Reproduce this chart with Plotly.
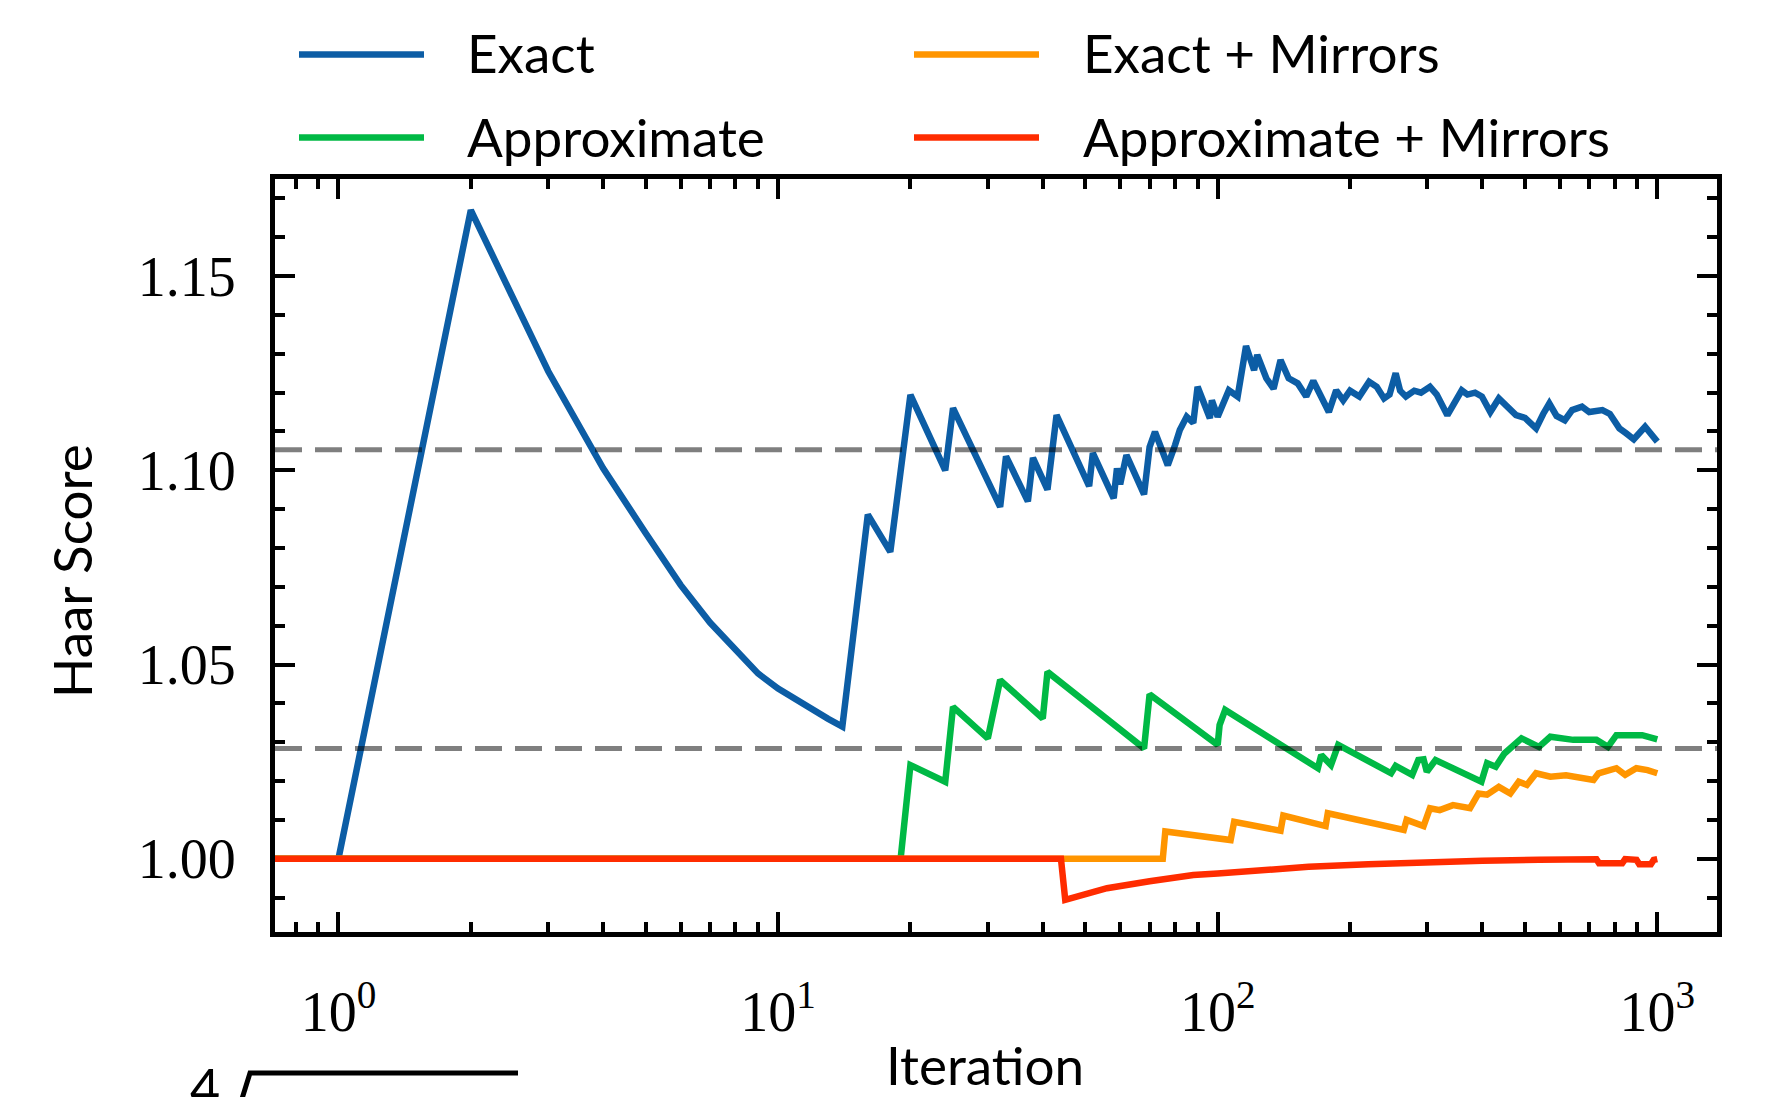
import plotly.graph_objects as go

# ---------------- data ----------------
series_names = ["Exact", "Approximate", "Exact + Mirrors", "Approximate + Mirrors"]
series_colors = ["#0C5DA5", "#00B945", "#FF9500", "#FF2C00"]

exact_iter = [1, 2, 3, 4, 5, 6, 7, 8, 9, 10, 11, 12, 13, 14, 16, 18, 20, 24, 25, 32, 33, 37, 38, 41, 43,
              51, 52, 58, 59, 60, 62, 68, 70, 72, 77, 80, 82, 85, 88, 90, 96, 97, 100, 106, 111, 116,
              121, 123, 129, 134, 139, 145, 152, 159, 165, 179, 186, 193, 200, 210, 221, 230, 239, 246,
              254, 260, 268, 280, 290, 304, 315, 333, 345, 359, 370, 385, 399, 417, 436, 450, 477, 500,
              530, 550, 568, 590, 616, 640, 674, 700, 750, 780, 820, 850, 884, 938, 960, 1000]
exact_val = [1.000, 1.167, 1.1255, 1.1005, 1.0838, 1.0705, 1.0608, 1.0538, 1.0477, 1.0438, 1.0408, 1.0383,
             1.036, 1.034, 1.0886, 1.079, 1.1194, 1.100, 1.116, 1.0906, 1.1036, 1.092, 1.1032, 1.095, 1.1142,
             1.0959, 1.1044, 1.0928, 1.1005, 1.0964, 1.1039, 1.0938, 1.106, 1.1099, 1.1013, 1.1065, 1.1104,
             1.1138, 1.1122, 1.1215, 1.1134, 1.118, 1.1138, 1.1206, 1.119, 1.132, 1.1258, 1.1297, 1.1237,
             1.121, 1.1284, 1.1237, 1.1224, 1.119, 1.123, 1.115, 1.1206, 1.118, 1.1205, 1.119, 1.1228,
             1.1215, 1.1185, 1.1195, 1.125, 1.1205, 1.119, 1.1205, 1.120, 1.1215, 1.1195, 1.1142, 1.1175,
             1.1206, 1.1195, 1.120, 1.119, 1.115, 1.1185, 1.117, 1.1142, 1.1135, 1.1108, 1.1145, 1.1172,
             1.114, 1.1129, 1.1155, 1.1164, 1.115, 1.1155, 1.1145, 1.1108, 1.1095, 1.108, 1.1112, 1.110, 1.1074]

approx_iter = [0.5, 19, 20, 24, 25, 30, 32, 40, 41, 68, 70, 100, 101, 104, 169, 172, 181, 188, 248, 254,
               277, 286, 294, 299, 313, 398, 410, 429, 449, 477, 491, 538, 571, 644, 727, 772, 807, 924, 1000]
approx_val = [1.0, 1.0, 1.0241, 1.0198, 1.0391, 1.031, 1.046, 1.0361, 1.0481, 1.0284, 1.0423, 1.0293,
              1.0344, 1.0383, 1.0233, 1.0267, 1.0241, 1.0293, 1.022, 1.0239, 1.0216, 1.0254, 1.0256,
              1.0224, 1.0254, 1.0198, 1.0246, 1.0237, 1.0271, 1.0297, 1.031, 1.0288, 1.0314, 1.0306,
              1.0306, 1.0288, 1.0318, 1.0318, 1.0307]

exact_mir_iter = [0.5, 75, 76, 107, 109, 139, 141, 176, 178, 265, 269, 294, 304, 320, 343, 360, 375, 392,
                  410, 436, 463, 484, 505, 530, 571, 620, 716, 735, 807, 845, 896, 950, 1000]
exact_mir_val = [1.0, 1.0, 1.007, 1.0048, 1.0095, 1.0072, 1.0111, 1.0084, 1.0117, 1.0074, 1.010, 1.0084,
                 1.013, 1.0125, 1.0138, 1.0135, 1.013, 1.0168, 1.0165, 1.0185, 1.0168, 1.0198, 1.019,
                 1.022, 1.0211, 1.0215, 1.0203, 1.022, 1.0233, 1.0216, 1.0233, 1.0228, 1.022]

approx_mir_iter = [0.5, 44, 45, 50, 56, 70, 88, 100, 120, 161, 220, 295, 400, 538, 727, 737, 832, 845,
                   897, 910, 967, 981, 1000]
approx_mir_val = [1.0, 1.0, 0.9894, 0.9909, 0.9924, 0.9942, 0.9958, 0.9962, 0.997, 0.9979, 0.9986,
                  0.9992, 0.9995, 0.9997, 0.99985, 0.9988, 0.9988, 0.9999, 0.9997, 0.9986, 0.9986,
                  0.9997, 0.9999]

ref_levels = [1.1053, 1.0284]

x_tick_vals = [1, 10, 100, 1000]
x_tick_text = ["10<sup>0</sup>", "10<sup>1</sup>", "10<sup>2</sup>", "10<sup>3</sup>"]
x_minor_vals = [0.8, 0.9] + [k * 10 ** d for d in range(0, 3) for k in range(2, 10)]

x_title = "Iteration"
y_title = "Haar Score"

# ---------------- figure ----------------
OFF = 8                      # default page (body) margin of the html page
W, H = 1781 - OFF, 1097 - OFF
ML, MR, MT, MB = 267, 64, 171, 165
PW, PH = W - ML - MR, H - MT - MB

def px_x(xp):                # window pixel -> paper fraction
    return (xp - OFF - ML) / PW

def px_y(yp):
    return (H - MB - (yp - OFF)) / PH

SANS = "Lato, 'DejaVu Sans', sans-serif"
SERIF = "'Liberation Serif', 'DejaVu Serif', serif"
LW = 6.5

fig = go.Figure()
all_series = [(exact_iter, exact_val), (approx_iter, approx_val),
              (exact_mir_iter, exact_mir_val), (approx_mir_iter, approx_mir_val)]
for (xs, ys), name, col in zip(all_series, series_names, series_colors):
    fig.add_trace(go.Scatter(x=xs, y=ys, mode="lines", name=name,
                             line=dict(color=col, width=LW), showlegend=False))

shapes = []
for lvl in ref_levels:
    shapes.append(dict(type="line", xref="paper", x0=0, x1=1, yref="y", y0=lvl, y1=lvl,
                       line=dict(color="rgba(0,0,0,0.5)", width=5, dash="27px,13px"), layer="above"))

# manual legend (2 x 2, long line samples)
legend_slots = [  # (line x0, line x1, text x, line y, text y) in window pixels
    (299, 424, 465, 54.5, 53),
    (299, 424, 465, 137.4, 136),
    (914, 1039, 1081, 54.5, 53),
    (914, 1039, 1081, 137.4, 136),
]
annotations = []
for (lx0, lx1, tx, ly, ty), name, col in zip(legend_slots, series_names, series_colors):
    shapes.append(dict(type="line", xref="paper", yref="paper", x0=px_x(lx0), x1=px_x(lx1),
                       y0=px_y(ly), y1=px_y(ly), line=dict(color=col, width=6.5)))
    annotations.append(dict(text=name, xref="paper", yref="paper", x=px_x(tx), y=px_y(ty),
                            xanchor="left", yanchor="middle", showarrow=False,
                            font=dict(family=SANS, size=53, color="black")))

# axis titles
annotations.append(dict(text=x_title, xref="paper", yref="paper", x=px_x(985), y=px_y(1064),
                        xanchor="center", yanchor="middle", showarrow=False,
                        font=dict(family=SANS, size=53, color="black")))
annotations.append(dict(text=y_title, xref="paper", yref="paper", x=px_x(71), y=px_y(571),
                        xanchor="center", yanchor="middle", showarrow=False, textangle=-90,
                        font=dict(family=SANS, size=53, color="black")))

# fragment of the neighbouring panel visible at the bottom-left edge
annotations.append(dict(text="4", xref="paper", yref="paper", x=px_x(205), y=px_y(1054),
                        xanchor="center", yanchor="top", showarrow=False,
                        font=dict(family=SANS, size=52, color="black")))
shapes.append(dict(type="path", xref="paper", yref="paper",
                   path=f"M {px_x(241)} {px_y(1102)} L {px_x(250)} {px_y(1073)} L {px_x(518)} {px_y(1073)}",
                   line=dict(color="black", width=5)))

fig.update_layout(
    width=W, height=H,
    margin=dict(l=ML, r=MR, t=MT, b=MB, pad=0, autoexpand=False),
    plot_bgcolor="white", paper_bgcolor="white",
    shapes=shapes, annotations=annotations, showlegend=False,
    xaxis=dict(
        type="log", range=[-0.1444, 3.1358], layer="below traces", automargin=False,
        tickmode="array", tickvals=x_tick_vals, ticktext=x_tick_text,
        ticks="inside", ticklen=20, tickwidth=4, tickcolor="black",
        showline=True, linewidth=5, linecolor="black", mirror="ticks",
        showgrid=False, zeroline=False,
        minor=dict(tickmode="array", tickvals=x_minor_vals, ticks="inside", ticklen=10,
                   tickwidth=3.5, tickcolor="black", showgrid=False),
        tickfont=dict(family=SERIF, size=56, color="black"),
        ticklabelstandoff=27,
    ),
    yaxis=dict(
        range=[0.98113, 1.175], layer="below traces", automargin=False,
        tickmode="linear", tick0=1.0, dtick=0.05, tickformat=".2f",
        ticks="inside", ticklen=20, tickwidth=4, tickcolor="black",
        showline=True, linewidth=5, linecolor="black", mirror="ticks",
        showgrid=False, zeroline=False,
        minor=dict(tick0=1.0, dtick=0.01, ticks="inside", ticklen=10, tickwidth=3.5,
                   tickcolor="black", showgrid=False),
        tickfont=dict(family=SERIF, size=56, color="black"),
        ticklabelstandoff=23,
    ),
)

fig.write_html("out.html")
